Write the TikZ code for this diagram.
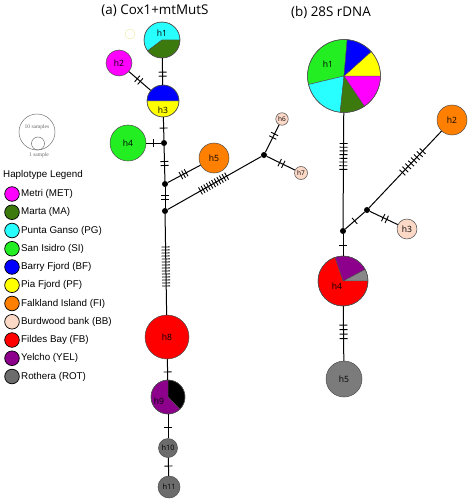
\documentclass[tikz,border=0pt]{standalone}
\usepackage{fontspec}
\setmainfont{Liberation Sans}
\newfontfamily\titlefont{Open Sans}
\newfontfamily\hapfamily{Open Sans}
\newfontfamily\serfont{Liberation Serif}
\usetikzlibrary{decorations.markings}
\pgfdeclarelayer{bg}
\pgfsetlayers{bg,main}
\definecolor{cMET}{RGB}{255,0,255}
\definecolor{cMA}{RGB}{60,122,14}
\definecolor{cPG}{RGB}{40,255,255}
\definecolor{cSI}{RGB}{34,238,34}
\definecolor{cBF}{RGB}{0,0,255}
\definecolor{cPF}{RGB}{255,255,0}
\definecolor{cFI}{RGB}{255,128,0}
\definecolor{cBB}{RGB}{252,216,198}
\definecolor{cFB}{RGB}{255,0,0}
\definecolor{cYEL}{RGB}{140,0,140}
\definecolor{cROT}{RGB}{108,108,108}
\definecolor{cGR}{RGB}{136,136,136}
\newcommand{\pieslice}[5]{%
  \fill[#5, draw=black!70, line width=0.4pt] (#1.center) -- ++(#3:#2) arc[start angle=#3, end angle=#4, radius=#2] -- cycle;}
\newcommand{\hapsize}{\hapfamily\fontsize{8.6}{9.5}\selectfont}
\tikzset{
  hap/.style={circle, draw=black!70, line width=0.5pt, inner sep=0pt, minimum size=#1, font=\hapsize},
  dotn/.style={circle, fill=black, inner sep=0pt, minimum size=6pt},
  link/.style={line width=1pt, black},
  tg/.style n args={3}{postaction={decorate,decoration={markings,mark=at position #1 with {\foreach \k in {1,...,#2}{\draw[line width=0.9pt] ({(\k-(#2+1)/2)*#3},-4pt) -- ++(0,8pt);}}}}},
  legc/.style={circle, draw=black, line width=0.7pt, inner sep=0pt, minimum size=14.6pt},
  legt/.style={anchor=west, inner sep=0pt, font=\fontsize{9.8}{11}\selectfont},
  ttl/.style={font=\titlefont\fontsize{13.4}{15}\selectfont, inner sep=0pt},
  sml/.style={font=\serfont\fontsize{5.5}{6}\selectfont, text=black!60, inner sep=0pt},
}
\begin{document}
\begin{tikzpicture}[x=1pt,y=1pt]
\useasboundingbox (0,0) rectangle (470,-500);
% titles
\node[ttl] (ta) at (155,-11) {(a) Cox1+mtMutS};
\node[ttl] (tb) at (331,-12) {(b) 28S rDNA};

% size legend
\node[circle, draw=black!55, line width=0.5pt, minimum size=36pt, inner sep=0pt] (s10) at (37,-132) {};
\node[circle, draw=black!55, line width=0.5pt, minimum size=13pt, inner sep=0pt] (s1) at (38,-143.5) {};
\node[sml] (s10t) at (37,-127) {10 samples};
\node[sml] (s1t) at (39,-155) {1 sample};
\node[circle, draw={rgb,255:red,240;green,235;blue,170}, line width=0.5pt, minimum size=10pt, inner sep=0pt] (faint) at (130,-34) {};

% haplotype legend
\node[legt, anchor=center] (hl) at (43,-175) {Haplotype Legend};
\foreach \c/\t [count=\i from 0] in {cMET/Metri (MET), cMA/Marta (MA), cPG/Punta Ganso (PG), cSI/San Isidro (SI), cBF/Barry Fjord (BF), cPF/Pia Fjord (PF), cFI/Falkland Island (FI), cBB/Burdwood bank (BB), cFB/Fildes Bay (FB), cYEL/Yelcho (YEL), cROT/Rothera (ROT)}{
  \node[legc, fill=\c] (lc\i) at (12,{-194-18.25*\i}) {};
  \node[legt] (lt\i) at (21,{-194-18.25*\i}) {\t};
}

% ---------- (a) network ----------
\node[hap=36pt, label={[yshift=7pt, font=\hapsize]center:h1}] (ah1) at (162,-40) {};
\node[hap=26pt, fill=cMET] (ah2) at (119,-63) {h2};
\node[hap=32pt, label={[yshift=-9pt, font=\hapsize]center:h3}] (ah3) at (163,-101) {};
\node[hap=36pt, fill=cSI] (ah4) at (128,-143) {h4};
\node[hap=30pt, fill=cFI] (ah5) at (214,-158) {h5};
\node[hap=12.5pt, fill=cBB, font=\hapfamily\fontsize{6.5}{7}\selectfont] (ah6) at (282,-119) {h6};
\node[hap=13pt, fill=cBB, font=\hapfamily\fontsize{6.5}{7}\selectfont] (ah7) at (301,-173) {h7};
\node[hap=44pt, fill=cFB] (ah8) at (167,-337) {h8};
\node[hap=34pt, label={[xshift=-9pt, yshift=-4pt, font=\hapsize]center:h9}] (ah9) at (168,-397) {};
\node[hap=19pt, fill=cROT, font=\hapfamily\fontsize{7.4}{8}\selectfont] (ah10) at (168,-448) {h10};
\node[hap=22pt, fill=cROT, font=\hapfamily\fontsize{7.4}{8}\selectfont] (ah11) at (169,-487) {h11};
\node[dotn] (ad1) at (164,-143) {};
\node[dotn] (ad2) at (165,-184) {};
\node[dotn] (ad3) at (165,-211) {};
\node[dotn] (ad4) at (264,-155) {};

\begin{pgfonlayer}{bg}
\pieslice{ah1}{18}{0}{217}{cPG}
\pieslice{ah1}{18}{217}{360}{cMA}
\pieslice{ah3}{16}{0}{180}{cBF}
\pieslice{ah3}{16}{180}{360}{cPF}
\pieslice{ah9}{17}{-46}{90}{black}
\pieslice{ah9}{17}{90}{314}{cYEL}
\end{pgfonlayer}

\draw[link, tg={0.6}{2}{4pt}] (ah1) -- (ah3);
\draw[link, tg={0.45}{2}{4pt}] (ah2) -- (ah3);
\draw[link, tg={0.48}{1}{4pt}] (ah3) -- (ad1);
\draw[link, tg={0.47}{1}{4pt}] (ah4) -- (ad1);
\draw[link, tg={0.5}{2}{4pt}] (ad1) -- (ad2);
\draw[link, tg={0.48}{3}{3pt}] (ad2) -- (ah5);
\draw[link, tg={0.5}{2}{4pt}] (ad2) -- (ad3);
\draw[link, tg={0.49}{11}{3pt}] (ad3) -- (ad4);
\draw[link, tg={0.6}{2}{4pt}] (ad4) -- (ah6);
\draw[link, tg={0.52}{2}{4pt}] (ad4) -- (ah7);
\draw[link, tg={0.52}{14}{3pt}] (ad3) -- (ah8);
\draw[link, tg={0.62}{1}{4pt}] (ah8) -- (ah9);
\draw[link, tg={0.53}{1}{4pt}] (ah9) -- (ah10);
\draw[link, tg={0.46}{1}{4pt}] (ah10) -- (ah11);

% ---------- (b) network ----------
\node[hap=73pt, label={[xshift=-16pt, yshift=12pt, font=\hapsize]center:h1}] (bh1) at (344,-76) {};
\node[hap=30pt, fill=cFI] (bh2) at (452,-120) {h2};
\node[hap=20pt, fill=cBB] (bh3) at (407,-229) {h3};
\node[hap=50pt, label={[xshift=-6pt, yshift=-5pt, font=\hapsize]center:h4}] (bh4) at (343,-281) {};
\node[hap=36pt, fill=cROT!90!white] (bh5) at (344,-379) {h5};
\node[dotn] (bd1) at (343,-231) {};
\node[dotn] (bd2) at (367,-210) {};

\begin{pgfonlayer}{bg}
\pieslice{bh1}{36.5}{85}{193.5}{cSI}
\pieslice{bh1}{36.5}{193.5}{264}{cPG}
\pieslice{bh1}{36.5}{264}{304}{cMA}
\pieslice{bh1}{36.5}{304}{360}{cMET}
\pieslice{bh1}{36.5}{0}{42}{cPF}
\pieslice{bh1}{36.5}{42}{85}{cBF}
\pieslice{bh4}{25}{0}{28}{cGR}
\pieslice{bh4}{25}{28}{109}{cYEL}
\pieslice{bh4}{25}{109}{360}{cFB}
\end{pgfonlayer}

\draw[link, tg={0.38}{8}{3.7pt}] (bh1) -- (bd1);
\draw[link, tg={0.48}{1}{4pt}] (bd1) -- (bd2);
\draw[link, tg={0.54}{2}{4pt}] (bd2) -- (bh3);
\draw[link, tg={0.6}{8}{4.2pt}] (bd2) -- (bh2);
\draw[link, tg={0.5}{1}{4pt}] (bd1) -- (bh4);
\draw[link, tg={0.47}{4}{4.5pt}] (bh4) -- (bh5);
\end{tikzpicture}
\end{document}
